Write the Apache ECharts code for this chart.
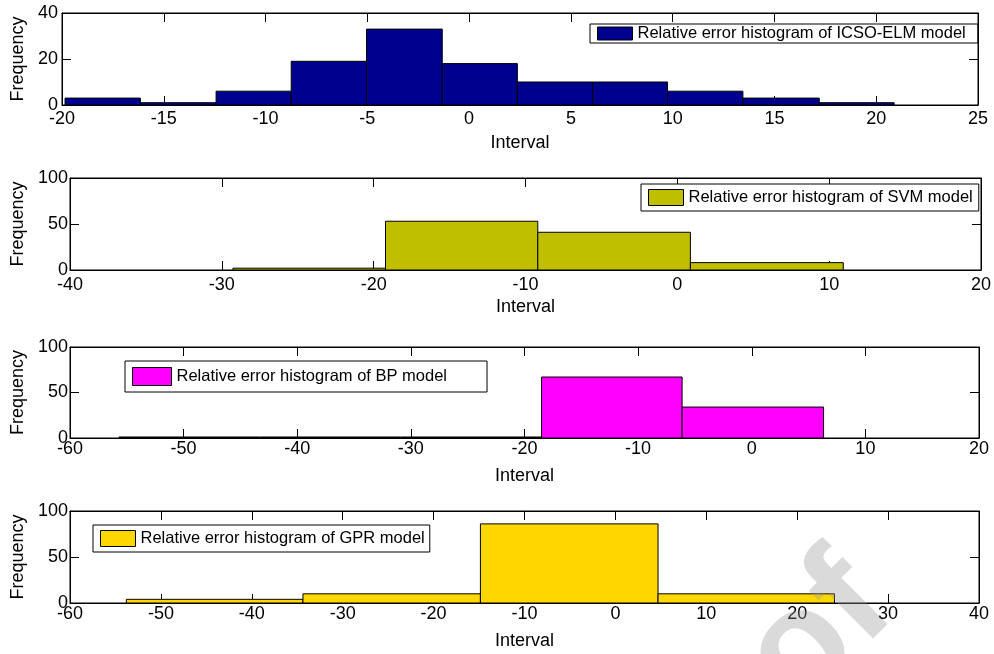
<!DOCTYPE html>
<html>
<head>
<meta charset="utf-8">
<script src="https://cdn.jsdelivr.net/npm/echarts@6/dist/echarts.min.js"></script>
<style>
html,body{margin:0;padding:0;background:#fff;}
#chart{width:994px;height:654px;}
</style>
</head>
<body>
<div id="chart"></div>
<script>
// ---- data ----
const icsoEdges  = [-19.85, -16.15, -12.43, -8.74, -5.04, -1.32, 2.37, 6.07, 9.75, 13.45, 17.2, 20.88];
const icsoCounts = [3, 1, 6, 19, 33, 18, 10, 10, 6, 3, 1];

const svmEdges  = [-29.27, -19.22, -9.19, 0.86, 10.93];
const svmCounts = [2, 53, 41, 8];

const bpEdges  = [-55.7, -43.3, -30.9, -18.5, -6.13, 6.32];
const bpCounts = [1, 0, 0, 67, 34];

const gprEdges  = [-53.8, -34.37, -14.85, 4.69, 24.1];
const gprCounts = [4, 10, 86, 10];

const names = [
  'Relative error histogram of ICSO-ELM model',
  'Relative error histogram of SVM model',
  'Relative error histogram of BP model',
  'Relative error histogram of GPR model'
];
const xMins = [-20, -40, -60, -60];
const xMaxs = [25, 20, 20, 40];
const xSteps = [5, 10, 10, 10];
const yMaxs = [40, 100, 100, 100];
const ySteps = [20, 50, 50, 50];
const xName = 'Interval';
const yName = 'Frequency';

// ---- styling / layout ----
const FONT = '"Liberation Sans", Arial, Helvetica, sans-serif';
const colors = ['#00008F', '#BFBF00', '#FF00FF', '#FFD700'];
const grids = [
  {left: 62, top: 13, right: 16, height: 92},
  {left: 70, top: 178, right: 13, height: 92},
  {left: 70, top: 347, right: 15, height: 91},
  {left: 70, top: 511, right: 15, height: 92}
];
const xNameGaps = [29, 28, 29, 29];
const yNameGaps = [35, 42, 42, 42];
const yLabelMargins = [4, 2, 2, 2];
const xLabelMargins = [5, 6, 2, 2];
const legendLayout = [
  {left: 590, top: 24, itemWidth: 35, itemHeight: 13, padding: [1, 12, 1, 7]},
  {left: 641, top: 184, itemWidth: 35, itemHeight: 16, padding: [5, 6, 5, 7]},
  {left: 125, top: 361, itemWidth: 39, itemHeight: 18, padding: [6, 40, 6, 7]},
  {left: 93, top: 525, itemWidth: 35, itemHeight: 16, padding: [5, 5, 5, 7]}
];

const allEdges = [icsoEdges, svmEdges, bpEdges, gprEdges];
const allCounts = [icsoCounts, svmCounts, bpCounts, gprCounts];

function histData(edges, counts) {
  return counts.map((c, i) => [edges[i], edges[i + 1], c]);
}

function renderItem(params, api) {
  const x0 = api.value(0), x1 = api.value(1), v = api.value(2);
  const pTop = api.coord([x0, v]);
  const pBot = api.coord([x1, 0]);
  const h = pBot[1] - pTop[1];
  if (h < 1) {
    // degenerate (empty) bin: outline collapses onto the baseline
    return {
      type: 'line',
      shape: {x1: pTop[0], y1: pBot[1] - 0.5, x2: pBot[0], y2: pBot[1] - 0.5},
      style: {stroke: '#000', lineWidth: 2}
    };
  }
  return {
    type: 'rect',
    shape: {x: pTop[0], y: pTop[1], width: pBot[0] - pTop[0], height: h},
    style: api.style({stroke: '#000', lineWidth: 1})
  };
}

const tickStyle = {inside: true, length: 9, lineStyle: {color: '#000', width: 1}};
const lineStyle = {show: true, onZero: false, lineStyle: {color: '#000', width: 1}};
const labelBase = {color: '#000', fontSize: 18, fontFamily: FONT};

const option = {
  animation: false,
  backgroundColor: '#fff',
  grid: grids.map(g => Object.assign({show: true, borderColor: '#000', borderWidth: 1, backgroundColor: '#fff'}, g)),
  xAxis: [],
  yAxis: [],
  legend: [],
  series: [],
  graphic: [{
    type: 'text', x: 822, y: 737, rotation: Math.PI / 4, z: 100, silent: true,
    style: {text: 'of', fontSize: 150, fontWeight: 'bold', fontFamily: FONT,
            fill: 'rgba(150,150,150,0.35)', verticalAlign: 'bottom', align: 'left'}
  }]
};

for (let i = 0; i < 4; i++) {
  const common = {type: 'value', gridIndex: i, min: xMins[i], max: xMaxs[i], interval: xSteps[i],
                  splitLine: {show: false}, axisLine: lineStyle, axisTick: tickStyle};
  option.xAxis.push(Object.assign({}, common, {
    position: 'bottom',
    name: xName, nameLocation: 'middle', nameGap: xNameGaps[i],
    nameTextStyle: {color: '#000', fontSize: 18, fontFamily: FONT},
    axisLabel: Object.assign({margin: xLabelMargins[i]}, labelBase)
  }));
  option.xAxis.push(Object.assign({}, common, {position: 'top', axisLabel: {show: false}}));
  const ycommon = {type: 'value', gridIndex: i, min: 0, max: yMaxs[i], interval: ySteps[i],
                   splitLine: {show: false}, axisLine: lineStyle, axisTick: tickStyle};
  option.yAxis.push(Object.assign({}, ycommon, {
    position: 'left',
    name: yName, nameLocation: 'middle', nameGap: yNameGaps[i], nameRotate: 90,
    nameTextStyle: {color: '#000', fontSize: 18, fontFamily: FONT},
    axisLabel: Object.assign({margin: yLabelMargins[i]}, labelBase)
  }));
  option.yAxis.push(Object.assign({}, ycommon, {position: 'right', axisLabel: {show: false}}));

  option.series.push({
    type: 'custom',
    name: names[i],
    xAxisIndex: 2 * i,
    yAxisIndex: 2 * i,
    renderItem: renderItem,
    encode: {x: [0, 1], y: 2},
    itemStyle: {color: colors[i], borderColor: '#000', borderWidth: 1},
    data: histData(allEdges[i], allCounts[i]),
    z: 2
  });

  const L = legendLayout[i];
  option.legend.push({
    data: [names[i]],
    left: L.left, top: L.top, padding: L.padding,
    itemWidth: L.itemWidth, itemHeight: L.itemHeight,
    icon: 'rect', selectedMode: false,
    borderColor: '#000', borderWidth: 1, borderRadius: 0, backgroundColor: '#fff',
    itemStyle: {color: colors[i], borderColor: '#000', borderWidth: 1},
    textStyle: {color: '#000', fontSize: 16.5, fontFamily: FONT, lineHeight: L.itemHeight}
  });
}

const chart = echarts.init(document.getElementById('chart'), null, {renderer: 'canvas'});
chart.setOption(option);
</script>
</body>
</html>
